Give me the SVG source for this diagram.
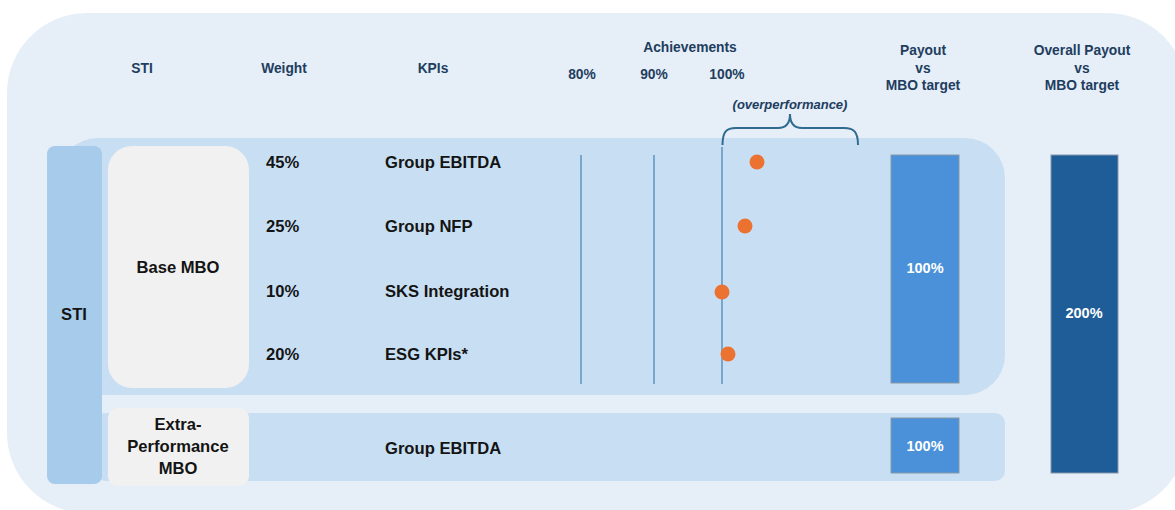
<svg xmlns="http://www.w3.org/2000/svg" width="1175" height="510" viewBox="0 0 1175 510">
  <style>
    .hdr { font-family: "Liberation Sans", Arial, sans-serif; font-weight: bold; font-size: 13.8px; fill: #213d5e; text-anchor: middle; }
    .note { font-size: 13px; font-style: italic; }
    .lbl { font-family: "Liberation Sans", Arial, sans-serif; font-weight: bold; font-size: 16.6px; fill: #141414; }
    .mid { text-anchor: middle; }
    .bar { font-family: "Liberation Sans", Arial, sans-serif; font-weight: bold; font-size: 14.5px; fill: #ffffff; text-anchor: middle; }
    .grid { stroke: #5f95be; stroke-width: 1.5; }
    .dot { fill: #ec7232; }
    .pay { fill: #4a91d9; stroke: #8797a8; stroke-width: 1; }
  </style>

  <!-- background panel -->
  <rect x="7" y="13" width="1180" height="500" rx="80" ry="80" fill="#e6eef8"/>

  <!-- row bands -->
  <g id="band-base">
    <rect x="58" y="138" width="947" height="257" rx="40" ry="40" fill="#c8dff3"/>
  </g>
  <g id="band-extra">
    <rect x="95" y="413" width="910" height="68" rx="10" ry="10" fill="#c8dff3"/>
  </g>

  <!-- header labels -->
  <g id="headers">
    <text class="hdr" x="142" y="73">STI</text>
    <text class="hdr" x="284" y="73">Weight</text>
    <text class="hdr" x="433" y="73">KPIs</text>
    <text class="hdr" x="690" y="52">Achievements</text>
    <text class="hdr" x="582" y="79">80%</text>
    <text class="hdr" x="654" y="79">90%</text>
    <text class="hdr" x="727" y="79">100%</text>
    <text class="hdr" x="923" y="55">Payout</text>
    <text class="hdr" x="923" y="73">vs</text>
    <text class="hdr" x="923" y="90">MBO target</text>
    <text class="hdr" x="1082" y="55">Overall Payout</text>
    <text class="hdr" x="1082" y="73">vs</text>
    <text class="hdr" x="1082" y="90">MBO target</text>
    <text class="hdr note" x="790" y="109">(overperformance)</text>
  </g>

  <!-- STI column -->
  <g id="node-sti">
    <rect x="47" y="146" width="55" height="338" rx="8" ry="8" fill="#a7cbeb"/>
    <text class="lbl mid" x="74" y="320">STI</text>
  </g>

  <g id="node-base-mbo">
    <rect x="108" y="146" width="141" height="242" rx="24" ry="24" fill="#f1f1f1"/>
    <text class="lbl mid" x="178" y="273">Base MBO</text>
  </g>

  <g id="node-extra-mbo">
    <rect x="108" y="408" width="141" height="78" rx="10" ry="10" fill="#f1f1f1"/>
    <text class="lbl mid" x="178" y="430">Extra-</text>
    <text class="lbl mid" x="178" y="452">Performance</text>
    <text class="lbl mid" x="178" y="474">MBO</text>
  </g>

  <!-- weights and KPIs -->
  <g id="kpi-rows">
    <text class="lbl" x="266" y="168">45%</text>
    <text class="lbl" x="385" y="168">Group EBITDA</text>
    <text class="lbl" x="266" y="232">25%</text>
    <text class="lbl" x="385" y="232">Group NFP</text>
    <text class="lbl" x="266" y="297">10%</text>
    <text class="lbl" x="385" y="297">SKS Integration</text>
    <text class="lbl" x="266" y="360">20%</text>
    <text class="lbl" x="385" y="360">ESG KPIs*</text>
    <text class="lbl" x="385" y="454">Group EBITDA</text>
  </g>

  <!-- achievement scale -->
  <g id="connectors">
    <line class="grid" x1="581" y1="155" x2="581" y2="384"/>
    <line class="grid" x1="654" y1="155" x2="654" y2="384"/>
    <line class="grid" x1="722" y1="147" x2="722" y2="384"/>
    <path d="M722.5,145 C722.5,132 726,128 736,128 L778,128 C786,128 790,124 790,114 C790,124 794,128 802,128 L844,128 C854,128 858,132 858,145" fill="none" stroke="#2f6b8f" stroke-width="2"/>
  </g>

  <g id="achievement-dots">
    <circle class="dot" cx="757" cy="162" r="7.5"/>
    <circle class="dot" cx="745" cy="226" r="7.5"/>
    <circle class="dot" cx="722" cy="292" r="7.5"/>
    <circle class="dot" cx="728" cy="354" r="7.5"/>
  </g>

  <!-- payout bars -->
  <g id="node-payout-base">
    <rect class="pay" x="891" y="155" width="68" height="228"/>
    <text class="bar" x="925" y="273">100%</text>
  </g>
  <g id="node-payout-extra">
    <rect class="pay" x="891" y="418" width="68" height="55"/>
    <text class="bar" x="925" y="451">100%</text>
  </g>
  <g id="node-payout-overall">
    <rect x="1051" y="155" width="67" height="318" fill="#1f5d99" stroke="#8797a8" stroke-width="1"/>
    <text class="bar" x="1084" y="318">200%</text>
  </g>
</svg>
